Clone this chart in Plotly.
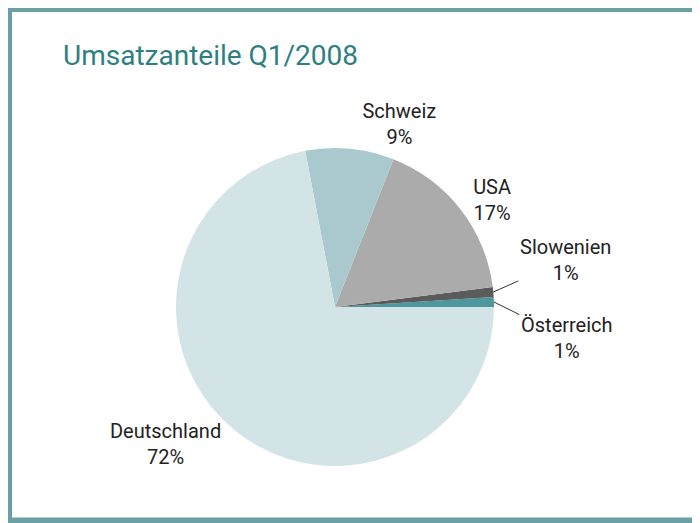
import math
import plotly.graph_objects as go

# Daten
laender = ['Österreich', 'Slowenien', 'USA', 'Schweiz', 'Deutschland']
anteile = [1, 1, 17, 9, 72]
farben = ['#4e979f', '#5b5b5b', '#ababab', '#a9c9ce', '#d3e4e7']

W, H = 700, 523
# Seite hat 8px Rand -> Positionen im SVG um 8px verschoben
cx, cy, r = 327, 299, 159

# erstes Segment beginnt bei 3 Uhr und läuft gegen den Uhrzeigersinn
start = 90 - 360 * anteile[0] / sum(anteile)

schrift = dict(family='Roboto', size=20, color='#222222')

fig = go.Figure(go.Pie(
    labels=laender, values=anteile, sort=False,
    direction='counterclockwise', rotation=start,
    marker=dict(colors=farben, line=dict(width=0)),
    texttemplate='%{label}<br>%{value}%',
    textposition=['none', 'none', 'outside', 'outside', 'outside'],
    textfont=schrift,
    domain=dict(x=[(cx - r)/W, (cx + r)/W], y=[1-(cy + r)/H, 1-(cy - r)/H]),
    showlegend=False, hoverinfo='label+value',
))

# kleine Segmente: Beschriftung mit Führungslinie
versatz = {'Österreich': (73, 36), 'Slowenien': (72, -32)}
kum = 0
for land, wert in zip(laender, anteile):
    mitte = (kum + wert / 2) / sum(anteile) * 360
    kum += wert
    if land not in versatz:
        continue
    px_ = cx + r * math.cos(math.radians(mitte))
    py_ = cy - r * math.sin(math.radians(mitte))
    ax, ay = versatz[land]
    fig.add_annotation(
        x=px_ / W, y=1 - py_ / H, xref='paper', yref='paper',
        text=f'{land}<br>{wert}%', font=schrift,
        showarrow=True, arrowhead=0, arrowwidth=1, arrowcolor='#333333',
        ax=ax, ay=ay, standoff=0,
    )

fig.update_layout(
    width=W, height=H,
    margin=dict(l=0, r=0, t=0, b=0),
    paper_bgcolor='white',
    title=dict(text='Umsatzanteile Q1/2008', x=55/W, xanchor='left',
               y=1-47/H, yanchor='middle',
               font=dict(family='Roboto', size=28, color='#2e7f82')),
    shapes=[dict(type='rect', xref='paper', yref='paper',
                 x0=1/W, x1=1.05, y0=1-512.5/H, y1=1-1/H,
                 line=dict(color='#6a9fa4', width=6))],
)

fig.write_html("out.html")
